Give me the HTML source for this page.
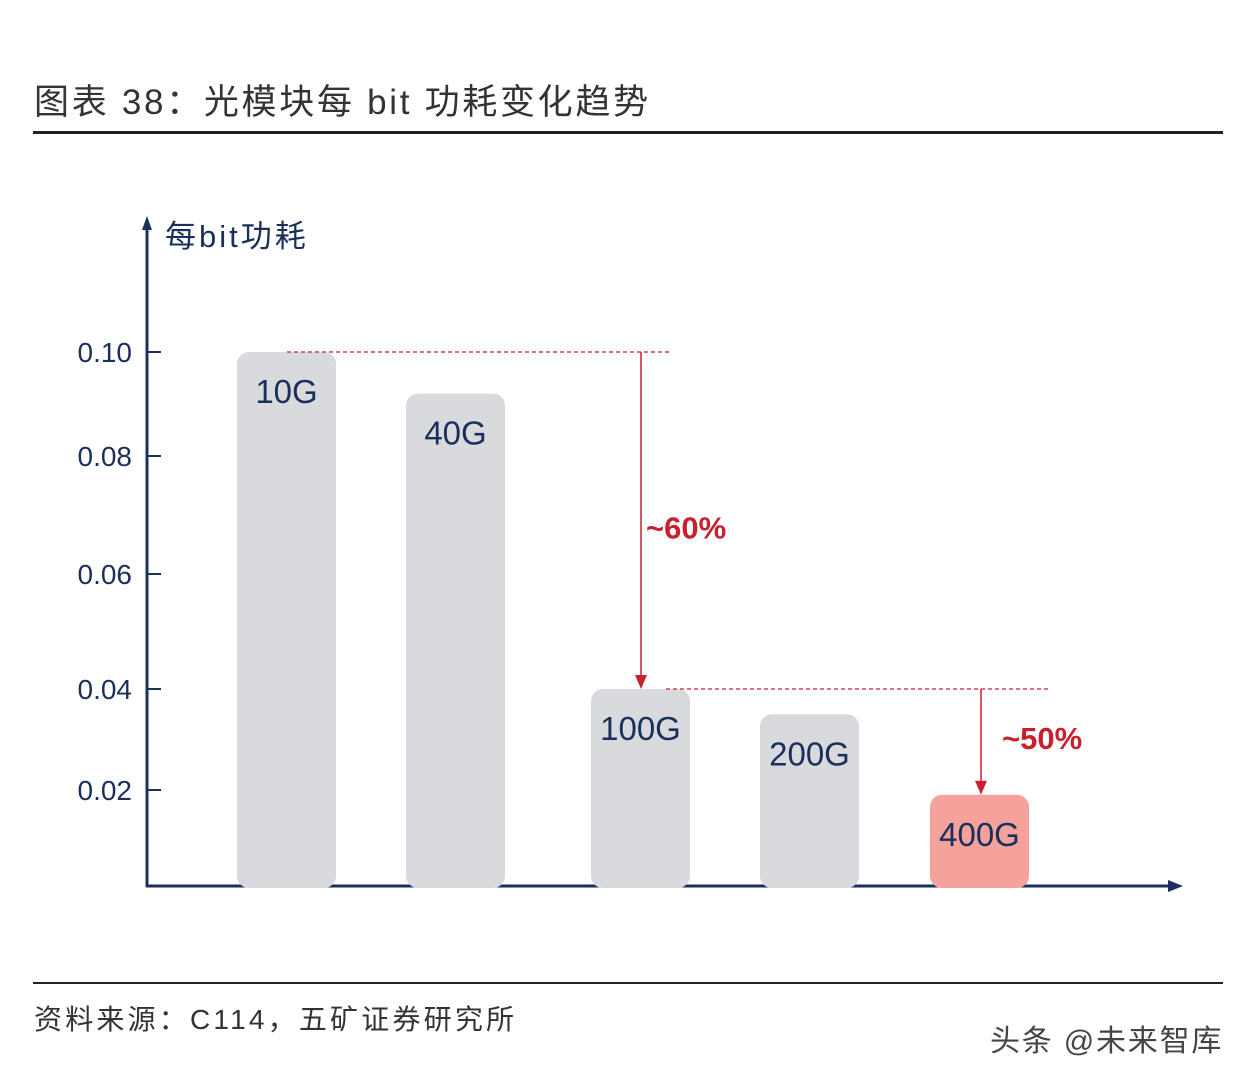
<!DOCTYPE html>
<html><head><meta charset="utf-8">
<style>
body{margin:0;background:#fff;width:1250px;height:1080px;overflow:hidden;font-family:"Liberation Sans","Noto Sans CJK SC",sans-serif;}
.t{position:absolute;white-space:nowrap}
</style></head><body>
<div class="t" style="left:34px;top:74px;font-size:35px;letter-spacing:2.7px;color:#333">图表 38：光模块每 bit 功耗变化趋势</div>
<div style="position:absolute;left:33px;top:131px;width:1190px;height:3px;background:#222"></div>
<div style="position:absolute;left:33px;top:982px;width:1190px;height:2px;background:#222"></div>
<div class="t" style="left:34px;top:998px;font-size:28px;letter-spacing:3.2px;color:#333">资料来源：C114，五矿证券研究所</div>
<div class="t" style="left:990px;top:1016px;font-size:30px;letter-spacing:1.8px;color:#444">头条 @未来智库</div>
<svg id="chart" width="1250" height="1080" style="position:absolute;left:0;top:0"></svg>
<script>
const categories=["10G","40G","100G","200G","400G"];
const values=[0.10,0.092,0.04,0.035,0.019];
const tickValues=[0.02,0.04,0.06,0.08,0.10];
const tickLabels=["0.02","0.04","0.06","0.08","0.10"];
const dropA=[0.10,0.04], dropB=[0.04,0.019];
const dropLabels=["~60%","~50%"];
const ns="http://www.w3.org/2000/svg", svg=document.getElementById('chart');
const dom=[0,0.02,0.04,0.06,0.08,0.10], rng=[886,790,689,574,456,352];
function y(v){for(let i=1;i<dom.length;i++){if(v<=dom[i]||i==dom.length-1){const t=(v-dom[i-1])/(dom[i]-dom[i-1]);return rng[i-1]+t*(rng[i]-rng[i-1]);}}}
const barL=[237,406,591,760,930], barW=99;
function x(i){return barL[i];}
function mk(tag,a,parent){const e=document.createElementNS(ns,tag);for(const k in a)e.setAttribute(k,a[k]);(parent||svg).appendChild(e);return e;}
const navy="#1a2f5a", red="#c8202c";
let e=mk('line',{x1:147,y1:226,x2:147,y2:887,stroke:navy,'stroke-width':3});

e=mk('polygon',{points:"147,216 142,230 152,230",fill:navy});

e=mk('line',{x1:146,y1:886,x2:1172,y2:886,stroke:navy,'stroke-width':3});

e=mk('polygon',{points:"1183,886 1168,880 1168,892",fill:navy});

e=mk('text',{x:165,y:247,'font-size':31,'letter-spacing':3,fill:navy});e.textContent="每bit功耗";

tickValues.forEach((v,i)=>{
 const l=mk('line',{x1:147,x2:161,y1:y(v),y2:y(v),stroke:navy,'stroke-width':2});
 
 const t=mk('text',{x:132,y:y(v)+10,'font-size':28,fill:navy,'text-anchor':'end'});t.textContent=tickLabels[i];
 
});
categories.forEach((c,i)=>{
 const top=y(values[i]);
 const r=mk('rect',{x:x(i),y:top,width:barW,height:886-top+2,rx:12,fill:i==4?"#f4a29b":"#d9dadd"});
 
 const t=mk('text',{x:x(i)+barW/2,y:top+51,'font-size':33,fill:navy,'text-anchor':'middle'});t.textContent=c;
 
});
function drop(d,lx,x1,x2,lab,lxText,lyText){
 e=mk('line',{x1:x1,x2:x2,y1:y(d[0]),y2:y(d[0]),stroke:red,'stroke-width':1.3,'stroke-dasharray':'4 3'});
 
 e=mk('line',{x1:lx,x2:lx,y1:y(d[0]),y2:y(d[1])-12,stroke:red,'stroke-width':1.5});
 
 e=mk('polygon',{points:`${lx},${y(d[1])} ${lx-6},${y(d[1])-14} ${lx+6},${y(d[1])-14}`,fill:red});
 
 e=mk('text',{x:lxText,y:lyText,'font-size':31,fill:red,'font-weight':'bold'});e.textContent=lab;
 
}
drop(dropA,641,287,672,dropLabels[0],646,(y(dropA[0])+y(dropA[1]))/2+18);
drop(dropB,981,666,1050,dropLabels[1],1002,749);
</script>
</body></html>
